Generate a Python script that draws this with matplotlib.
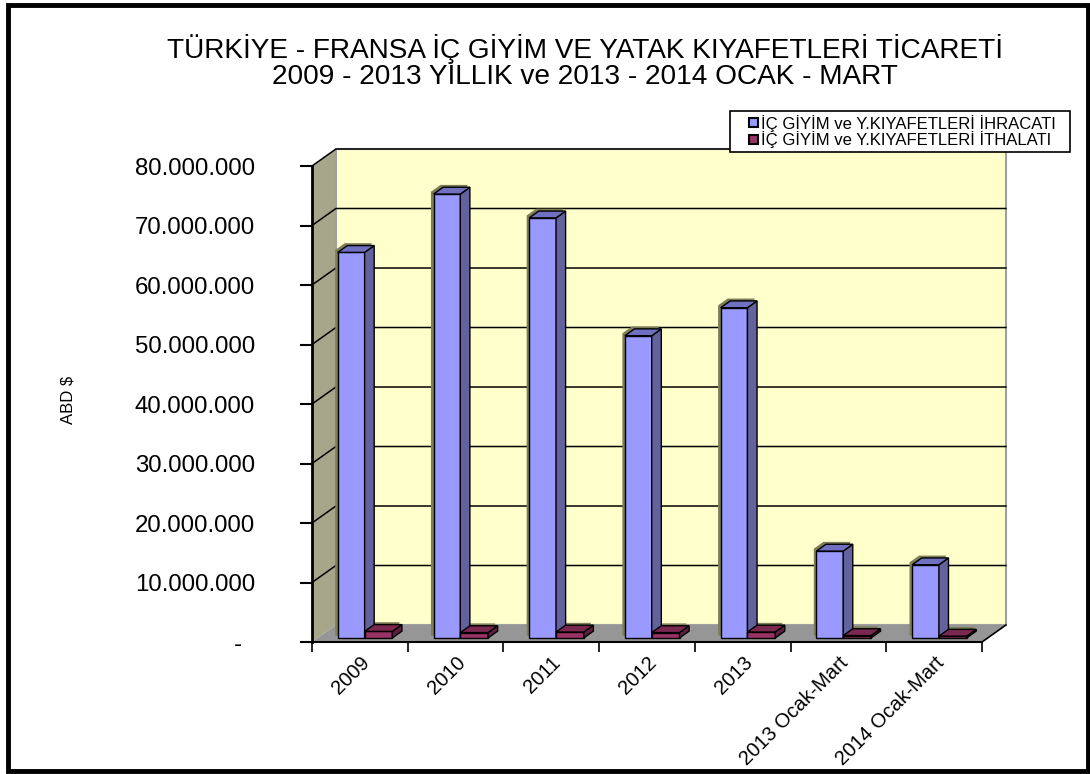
import matplotlib
matplotlib.use("Agg")
from matplotlib import pyplot as plt
from matplotlib.patches import Polygon, Rectangle

plt.rcParams['font.family'] = ['Liberation Sans', 'DejaVu Sans']

categories = ['2009', '2010', '2011', '2012', '2013', '2013 Ocak-Mart', '2014 Ocak-Mart']
ihracat = [64.8e6, 74.6e6, 70.6e6, 50.8e6, 55.5e6, 14.6e6, 12.3e6]
ithalat = [1.1e6, 0.9e6, 1.0e6, 0.9e6, 1.0e6, 0.4e6, 0.3e6]
yticks = [0, 10e6, 20e6, 30e6, 40e6, 50e6, 60e6, 70e6, 80e6]
legend_labels = ['İÇ GİYİM ve Y.KIYAFETLERİ İHRACATI', 'İÇ GİYİM ve Y.KIYAFETLERİ İTHALATI']

# fake 3d depth offsets (category units, value units)
DX = 0.25
DY = 2.86e6
YMAX = 80e6
n = len(categories)


def P(x, y, d):
    return (x + d * DX, y + d * DY)


def poly(ax, pts, fc, ec='black', lw=1.0, z=2):
    ax.add_patch(Polygon(pts, closed=True, facecolor=fc, edgecolor=ec,
                         linewidth=lw, zorder=z, clip_on=False))


def box(ax, x0, x1, h, d0, d1, front, side, top):
    # shadow up-left
    sx, sy = -0.027, 0.4e6
    pts = [P(x0, 0, d0), P(x0, h, d0), P(x0, h, d1), P(x1, h, d1), P(x1, 0, d1), P(x1, 0, d0)]
    poly(ax, [(a + sx, b + sy) for a, b in pts], '#7d7d58', ec='none', z=3)
    poly(ax, [P(x0, 0, d0), P(x1, 0, d0), P(x1, h, d0), P(x0, h, d0)], front, z=4)
    poly(ax, [P(x1, 0, d0), P(x1, 0, d1), P(x1, h, d1), P(x1, h, d0)], side, z=4)
    poly(ax, [P(x0, h, d0), P(x1, h, d0), P(x1, h, d1), P(x0, h, d1)], top, z=4)


fig = plt.figure(figsize=(10.9, 7.74), dpi=100)
ax = fig.add_axes([0.2862, 0.1705, 0.6147, 0.615])
ax.set_facecolor('none')
ax.set_xlim(0, n)
ax.set_ylim(0, YMAX)

# walls and floor
poly(ax, [P(0, 0, 0), P(0, 0, 1), P(0, YMAX, 1), P(0, YMAX, 0)], '#a6a68a', ec='none', z=1)
poly(ax, [P(0, 0, 1), P(n, 0, 1), P(n, YMAX, 1), P(0, YMAX, 1)], '#ffffcc', ec='#a0a0a0', lw=1.5, z=1)
poly(ax, [P(0, 0, 0), P(n, 0, 0), P(n, 0, 1), P(0, 0, 1)], '#969696', ec='none', z=1)

for v in yticks[1:]:
    xs, ys = zip(P(0, v, 0), P(0, v, 1), P(n, v, 1))
    ax.plot(xs, ys, color='black', lw=1.1, zorder=1.5, clip_on=False)
xs, ys = zip(P(n, 0, 0), P(n, 0, 1))
ax.plot(xs, ys, color='black', lw=1.2, zorder=1.5, clip_on=False)

# bars
for i in range(n):
    box(ax, i + 0.21, i + 0.49, ihracat[i], 0.24, 0.64, '#9999ff', '#62629e', '#7070c0')
    box(ax, i + 0.49, i + 0.78, ithalat[i], 0.24, 0.64, '#993366', '#5e1f40', '#7a2850')

# axes lines and ticks
for s in ['top', 'right']:
    ax.spines[s].set_visible(False)
ax.spines['left'].set_linewidth(2)
ax.spines['bottom'].set_linewidth(1.5)
ax.spines['left'].set_zorder(5)
ax.spines['bottom'].set_zorder(5)

ax.set_yticks(yticks)
ax.set_yticklabels(['-  ' if v == 0 else f"{v:,.0f}".replace(',', '.') for v in yticks],
                   fontsize=17.3)
ax.tick_params(axis='y', direction='out', length=9, width=1.5, pad=32)

ax.set_xticks(range(n + 1))
ax.set_xticklabels([])
ax.tick_params(axis='x', which='major', direction='out', length=7, width=1.2)
ax.set_xticks([i + 0.5 for i in range(n)], minor=True)
ax.set_xticklabels(categories, minor=True, rotation=45, ha='right', va='top',
                   rotation_mode='anchor', fontsize=14.5)
ax.tick_params(axis='x', which='minor', length=0, pad=8)

fig.text(0.537, 0.937, 'TÜRKİYE - FRANSA İÇ GİYİM VE YATAK KIYAFETLERİ TİCARETİ',
         ha='center', va='center', fontsize=20.2)
fig.text(0.537, 0.9005, '2009 - 2013 YILLIK ve 2013 - 2014 OCAK - MART',
         ha='center', va='center', fontsize=20.2)
fig.text(0.062, 0.483, 'ABD $', rotation=90, ha='center', va='center', fontsize=12)

# legend box is wider than its content, so draw the frame separately
fig.patches.append(Rectangle((0.6697, 0.8036), 0.3119, 0.053, transform=fig.transFigure,
                             facecolor='white', edgecolor='black', linewidth=1.2, zorder=9))
handles = [Rectangle((0, 0), 1, 1, facecolor='#9999ff', edgecolor='black', lw=1.5),
           Rectangle((0, 0), 1, 1, facecolor='#993366', edgecolor='black', lw=1.5)]
leg = fig.legend(handles, legend_labels, loc='center right',
                 bbox_to_anchor=(0.9688, 0.8301),
                 fontsize=12, frameon=False, handlelength=0.5, handleheight=0.5,
                 handletextpad=0.2, borderpad=0.0, labelspacing=0.0, borderaxespad=0)
leg.set_zorder(10)

# outer border
fig.patches.append(Rectangle((0.0075, 0.004), 0.9905, 0.99, transform=fig.transFigure,
                             fill=False, edgecolor='black', linewidth=3.5))

fig.savefig('out.png', dpi=100)
